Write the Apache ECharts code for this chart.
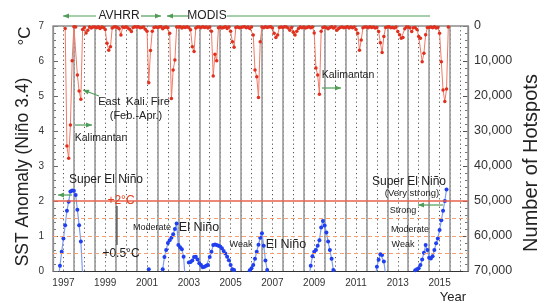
<!DOCTYPE html>
<html>
<head>
<meta charset="utf-8">
<script src="https://cdn.jsdelivr.net/npm/echarts@6.0.0/dist/echarts.min.js"></script>
<style>
  html, body { margin: 0; padding: 0; background: #fff; }
  #chart { width: 540px; height: 306px; }
</style>
</head>
<body>
<div id="chart"></div>
<script>
// monthly data, one row per year (Jan..Dec)
const years = [1997, 1998, 1999, 2000, 2001, 2002, 2003, 2004, 2005, 2006, 2007, 2008, 2009, 2010, 2011, 2012, 2013, 2014, 2015]

// number of hotspots (Kalimantan), right axis, inverted
const hotspots = [
  [null, null, null, null, null, null, null, 700, 34300, 37800, 28300, 9900],
  [200, 300, 14000, 18600, 20900, 1000, 400, 2000, 1200, 300, 600, 300],
  [300, 500, 200, 700, 300, 400, 1000, 4900, 6900, 5900, 600, 300],
  [200, 400, 800, 2600, 300, 400, 200, 600, 900, 1600, 400, 200],
  [300, 200, 500, 400, 300, 900, 1500, 16200, 7000, 1500, 400, 300],
  [400, 300, 200, 800, 400, 300, 500, 2100, 20700, 12600, 9700, 300],
  [300, 200, 600, 300, 400, 200, 500, 1100, 5900, 7300, 600, 300],
  [300, 500, 200, 400, 300, 600, 300, 1500, 14300, 8100, 9900, 500],
  [300, 600, 400, 200, 700, 300, 1500, 4500, 6100, 400, 300, 500],
  [400, 300, 200, 500, 300, 700, 300, 2600, 12600, 14500, 20400, 4500],
  [300, 500, 200, 400, 300, 200, 600, 2100, 3300, 2600, 400, 300],
  [400, 200, 300, 600, 1200, 400, 1800, 2600, 1500, 700, 300, 500],
  [300, 600, 400, 200, 500, 300, 2000, 12000, 14000, 19500, 1500, 400],
  [300, 500, 800, 400, 200, 600, 300, 1200, 700, 400, 300, 500],
  [400, 200, 600, 300, 500, 300, 1000, 2100, 6900, 4000, 500, 300],
  [300, 500, 200, 400, 300, 600, 400, 1600, 4800, 7600, 3000, 400],
  [300, 200, 500, 400, 600, 300, 1600, 2500, 3500, 3300, 800, 300],
  [300, 500, 1600, 500, 400, 1000, 3000, 3500, 10200, 7800, 2500, 400],
  [400, 300, 500, 200, 600, 400, 2100, 10200, 18300, 21600, 18000, 300]
]

// SST anomaly Nino 3.4 (only the warm part is visible, below 0 is clipped)
const nino34 = [
  [null, null, null, -0.3, 0.15, 0.55, 0.93, 1.31, 1.72, 1.98, 2.27, 2.3],
  [2.29, 2.17, 1.75, 1.31, 0.84, -0.1, null, null, null, null, null, null],
  [null, null, null, null, null, null, null, null, null, null, null, null],
  [null, null, null, null, null, null, null, null, null, null, null, null],
  [null, null, null, null, null, null, null, 0.05, null, null, null, null],
  [null, null, -0.2, 0.05, 0.4, 0.6, 0.8, 0.88, 0.95, 1.05, 1.2, 1.36],
  [0.74, 0.68, 0.62, 0.41, -0.3, null, 0.24, 0.26, 0.3, 0.4, 0.41, 0.33],
  [0.22, 0.17, 0.11, 0.12, 0.15, 0.17, 0.4, 0.55, 0.74, 0.76, 0.74, 0.72],
  [0.7, 0.65, 0.57, 0.5, 0.41, 0.31, 0.17, 0.05, 0.03, -0.2, null, null],
  [null, null, null, null, -0.2, 0.02, 0.08, 0.17, 0.35, 0.55, 0.75, 0.95],
  [1.08, 0.72, 0.3, 0.03, -0.2, null, null, null, null, null, null, null],
  [null, null, null, null, null, null, null, null, null, null, null, null],
  [null, null, null, -0.2, 0.15, 0.42, 0.55, 0.6, 0.72, 0.88, 1.24, 1.43],
  [1.3, 1.1, 0.84, 0.6, 0.35, 0.03, -0.2, null, null, null, null, null],
  [null, null, null, null, null, null, null, null, null, null, null, null],
  [null, null, null, null, null, -0.2, 0.12, 0.32, 0.48, 0.46, 0.27, -0.1],
  [null, null, null, null, null, null, null, null, null, null, null, null],
  [null, null, null, -0.2, 0.02, 0.05, 0.08, 0.17, 0.33, 0.52, 0.74, 0.6],
  [0.38, 0.36, 0.42, 0.6, 0.79, 0.93, 1.17, 1.45, 1.72, 2.0, 2.33, null]
]

const yearLabels = ['1997', '1999', '2001', '2003', '2005', '2007', '2009', '2011', '2013', '2015']
const ninoThresholds = [0.5, 1.0, 1.5]
const superThreshold = 2

const FONT = 'Liberation Sans'
const green = '#4f9d57'

function monthly(rows) {
  const out = []
  rows.forEach((row, i) => {
    row.forEach((v, j) => out.push([years[i] + j / 12, v]))
  })
  return out
}

function txt(text, x, y, size, color, rotation) {
  return {
    type: 'text', x: x, y: y, rotation: rotation || 0, silent: true, z: 10,
    style: { text: text, fill: color || '#222', fontSize: size, fontFamily: FONT, align: 'center', verticalAlign: 'middle' }
  }
}

function head(tx, ty, fx, fy) {
  const a = Math.atan2(ty - fy, tx - fx)
  const l = 6, w = 2.6
  return {
    type: 'polygon', silent: true, z: 10,
    shape: { points: [
      [tx, ty],
      [tx - l * Math.cos(a) + w * Math.sin(a), ty - l * Math.sin(a) - w * Math.cos(a)],
      [tx - l * Math.cos(a) - w * Math.sin(a), ty - l * Math.sin(a) + w * Math.cos(a)]
    ] },
    style: { fill: green }
  }
}

function seg(x1, y1, x2, y2, color, width) {
  return { type: 'line', silent: true, z: 10, shape: { x1: x1, y1: y1, x2: x2, y2: y2 }, style: { stroke: color || green, lineWidth: width || 1.2 } }
}

function arrow(x1, y1, x2, y2, both) {
  const els = [seg(x1, y1, x2, y2), head(x2, y2, x1, y1)]
  if (both) els.push(head(x1, y1, x2, y2))
  return els
}

const myChart = echarts.init(document.getElementById('chart'), null, { renderer: 'canvas' })

const option = {
  animation: false,
  backgroundColor: '#fff',
  grid: { left: 53, right: 72, top: 26, bottom: 35 },
  xAxis: [
    {
      type: 'value', min: 1997, max: 2016.86, interval: 0.5, position: 'bottom',
      axisLine: { lineStyle: { color: '#333', width: 1.2 } },
      axisTick: { show: false },
      axisLabel: {
        fontSize: 10, color: '#333', fontFamily: FONT, margin: 7,
        formatter: function (v) {
          const lab = yearLabels.find(l => Math.abs(+l + 0.5 - v) < 1e-6)
          return lab || ''
        }
      },
      splitLine: { show: true, lineStyle: { color: '#555', type: [1.2, 3], width: 1 } }
    },
    {
      type: 'value', min: 1997, max: 2016.86, interval: 1, position: 'top', z: 1,
      axisLine: { lineStyle: { color: '#8c8c8c', width: 1.5 } },
      axisTick: { show: false },
      axisLabel: { show: false },
      splitLine: { show: true, lineStyle: { color: '#9a9a9a', width: 1.6 } }
    }
  ],
  yAxis: [
    {
      type: 'value', min: 0, max: 7, interval: 1, position: 'left',
      axisLine: { show: true, lineStyle: { color: '#666', width: 1.2 } },
      axisTick: { show: true, inside: true, length: 5, lineStyle: { color: '#666' } },
      minorTick: { show: true, splitNumber: 5, length: 3, lineStyle: { color: '#777' } },
      axisLabel: { fontSize: 10, color: '#333', fontFamily: FONT, margin: 9 },
      splitLine: { show: false }
    },
    {
      type: 'value', min: 0, max: 70000, interval: 10000, position: 'right', inverse: true,
      axisLine: { show: true, lineStyle: { color: '#444', width: 1.2 } },
      axisTick: { show: true, inside: true, length: 5, lineStyle: { color: '#555' } },
      minorTick: { show: true, splitNumber: 5, length: 3, lineStyle: { color: '#777' } },
      axisLabel: {
        fontSize: 12.5, color: '#333', fontFamily: FONT, margin: 6,
        formatter: v => v.toLocaleString('en-US')
      },
      splitLine: { show: false }
    }
  ],
  series: [
    {
      name: 'Hotspots',
      type: 'line',
      xAxisIndex: 0,
      yAxisIndex: 1,
      data: monthly(hotspots),
      symbol: 'circle',
      symbolSize: 3.5,
      showSymbol: true,
      clip: true,
      lineStyle: { color: '#f07a66', width: 1 },
      itemStyle: { color: '#e0301e' },
      z: 3
    },
    {
      name: 'SST Anomaly',
      type: 'line',
      xAxisIndex: 0,
      yAxisIndex: 0,
      data: monthly(nino34),
      symbol: 'circle',
      symbolSize: 4,
      showSymbol: true,
      clip: true,
      lineStyle: { color: '#7f9cf5', width: 1.2 },
      itemStyle: { color: '#1f3ff0' },
      z: 4,
      markLine: {
        silent: true,
        symbol: ['none', 'none'],
        label: { show: false },
        data: ninoThresholds.map(v => ({ yAxis: v, lineStyle: { color: '#f4a070', type: [4, 3], width: 1.2 } }))
          .concat([{ yAxis: superThreshold, lineStyle: { color: '#e8604c', type: 'solid', width: 1.5 } }])
      }
    }
  ],
  graphic: [].concat(
    // axis titles
    [
      txt('SST Anomaly (Niño 3.4)', 23, 172, 17.5, '#222', Math.PI / 2),
      txt('°C', 25, 36, 17, '#222', Math.PI / 2),
      txt('Number of Hotspots', 531, 163, 20, '#222', Math.PI / 2),
      txt('Year', 453, 297, 13, '#222')
    ],
    // sensors on top
    [
      seg(63, 16, 96, 16), seg(141, 16, 161, 16), head(63, 16, 70, 16), head(161, 16, 154, 16),
      txt('AVHRR', 119, 16, 12, '#222'),
      head(167, 16, 174, 16), seg(167, 16, 188, 16), seg(227, 16, 430, 16),
      txt('MODIS', 207, 16, 12, '#222')
    ],
    // fire annotations
    arrow(99, 96, 83, 90),
    arrow(75, 125, 92, 125),
    arrow(322, 88, 341, 88),
    [
      txt('East  Kali. Fire', 134, 102, 11),
      txt('(Feb.-Apr.)', 136, 116, 11),
      txt('Kalimantan', 101, 138, 10.5),
      txt('Kalimantan', 348, 75, 10.5)
    ],
    // El Nino annotations
    arrow(72, 195, 58, 195),
    arrow(443, 205, 418, 205),
    [
      seg(117, 206, 117, 245, '#222', 1),
      txt('Super El Niño', 106, 180, 12),
      txt('+2°C', 121, 201, 12, '#e2401f'),
      txt('+0.5°C', 121, 254, 12),
      txt('Moderate', 152, 228, 9),
      txt('El Niño', 199, 228, 12.5),
      txt('Weak', 241, 245, 9),
      txt('El Niño', 286, 245, 12.5),
      txt('Super El Niño', 409, 182, 12),
      txt('(Very strong)', 412, 193, 9.5),
      txt('Strong', 403, 211, 9),
      txt('Moderate', 410, 230, 9),
      txt('Weak', 403, 245, 9)
    ]
  )
}

myChart.setOption(option)
window.addEventListener('resize', () => myChart.resize())
</script>
</body>
</html>
